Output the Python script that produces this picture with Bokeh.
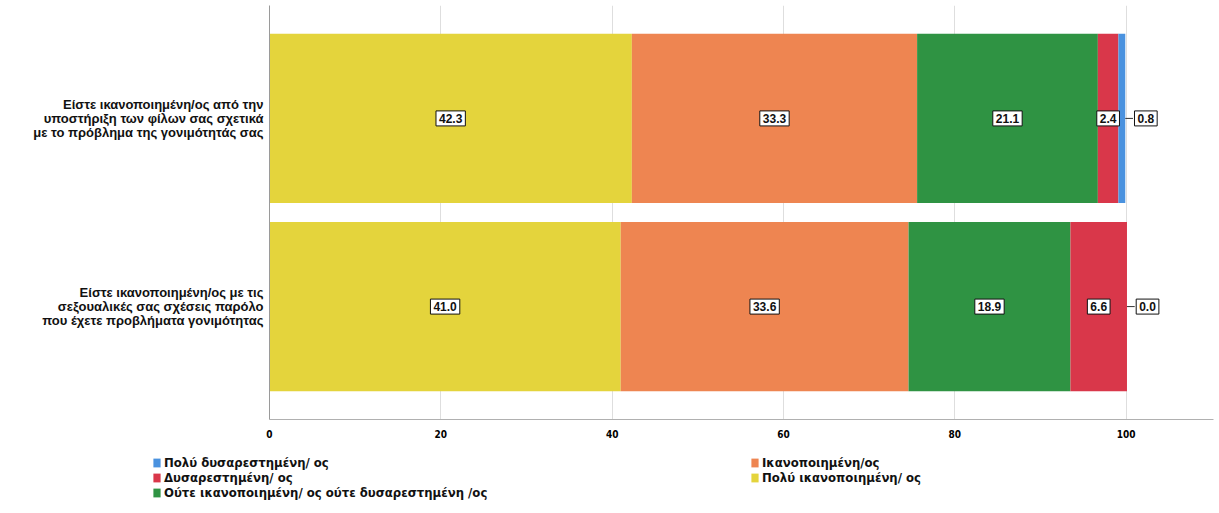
from bokeh.plotting import figure
from bokeh.layouts import column
from bokeh.models import (ColumnDataSource, FactorRange, Range1d, FixedTicker,
                          Legend, LegendItem)
from bokeh.core.properties import value
from bokeh.embed import file_html
from bokeh.resources import INLINE

# Survey questions (top to bottom)
questions = [
    "Είστε ικανοποιημένη/ος από την\nυποστήριξη των φίλων σας σχετικά\nμε το πρόβλημα της γονιμότητάς σας",
    "Είστε ικανοποιημένη/ος με τις\nσεξουαλικές σας σχέσεις παρόλο\nπου έχετε προβλήματα γονιμότητας",
]

# Answer categories, in stacking order (left to right)
answers = [
    "Πολύ ικανοποιημένη/ ος",
    "Ικανοποιημένη/ος",
    "Ούτε ικανοποιημένη/ ος ούτε δυσαρεστημένη /ος",
    "Δυσαρεστημένη/ ος",
    "Πολύ δυσαρεστημένη/ ος",
]
answer_keys = ["very_satisfied", "satisfied", "neutral", "dissatisfied", "very_dissatisfied"]
colors = ["#E4D43C", "#EE8551", "#2F9343", "#D9374A", "#4A92DF"]

# Percentages per question, one list per answer category
very_satisfied = [42.3, 41.0]
satisfied = [33.3, 33.6]
neutral = [21.1, 18.9]
dissatisfied = [2.4, 6.6]
very_dissatisfied = [0.8, 0.0]

x_ticks = [0, 20, 40, 60, 80, 100]

NARROW = "'Liberation Sans Narrow', 'DejaVu Sans Condensed', 'Arial Narrow', sans-serif"

series = [very_satisfied, satisfied, neutral, dissatisfied, very_dissatisfied]
data = {"q": questions}
for k, vals in zip(answer_keys, series):
    data[k] = vals
source = ColumnDataSource(data)

p = figure(
    width=1219, height=451,
    y_range=FactorRange(factors=list(reversed(questions)),
                        range_padding=0.1, range_padding_units="absolute"),
    x_range=Range1d(0, 110.2),
    output_backend="svg", toolbar_location=None,
    min_border_left=269, min_border_right=6, min_border_top=5, min_border_bottom=32,
)
p.frame_align = False
p.outline_line_color = None
p.background_fill_color = "white"

renderers = p.hbar_stack(answer_keys, y="q", height=0.9, color=colors,
                         line_color=None, source=source)

# Value boxes: centred inside a segment, or to the right of the bar if tiny
lab_x, lab_y, lab_t = [], [], []
lead_x0, lead_x1, lead_y = [], [], []
for i, q in enumerate(questions):
    left = 0.0
    for vals in series:
        v = vals[i]
        if v >= 2.0:
            lab_x.append(left + v / 2)
            lab_y.append(q)
            lab_t.append(f"{v:.1f}")
        else:
            end = left + v
            lab_x.append(end + 2.4)
            lab_y.append(q)
            lab_t.append(f"{v:.1f}")
            lead_x0.append(end)
            lead_x1.append(end + 0.9)
            lead_y.append(q)
        left += v

p.segment(x0=lead_x0, y0=lead_y, x1=lead_x1, y1=lead_y,
          line_color="#333333", line_width=1)
p.text(x=lab_x, y=lab_y, text=lab_t, text_align="center", text_baseline="middle",
       text_font=value("Liberation Sans"), text_font_style="bold",
       text_font_size="12px", text_color="#111111",
       background_fill_color="white", border_line_color="#111111",
       border_line_width=1, padding=3)

# Axes
p.xaxis.ticker = FixedTicker(ticks=x_ticks)
p.xaxis.axis_line_color = "#b0b0b0"
p.xaxis.major_tick_line_color = None
p.xaxis.minor_tick_line_color = None
p.xaxis.major_label_text_font = NARROW
p.xaxis.major_label_text_font_style = "bold"
p.xaxis.major_label_text_font_size = "10px"
p.xaxis.major_label_text_color = "black"
p.xaxis.major_label_standoff = 4

p.yaxis.axis_line_color = "#9a9a9a"
p.yaxis.major_tick_line_color = None
p.yaxis.major_label_text_font = "Liberation Sans"
p.yaxis.major_label_text_font_style = "bold"
p.yaxis.major_label_text_font_size = "13px"
p.yaxis.major_label_text_line_height = 0.95
p.yaxis.major_label_text_color = "#111111"
p.yaxis.major_label_standoff = 0

p.ygrid.grid_line_color = None
p.xgrid.grid_line_color = "#dedede"
p.xgrid.ticker = FixedTicker(ticks=x_ticks)

# Legend strip beneath the chart, two columns of colour swatches
lg = figure(width=1219, height=62, x_range=Range1d(0, 1), y_range=Range1d(0, 1),
            x_axis_type=None, y_axis_type=None,
            output_backend="svg", toolbar_location=None,
            min_border_left=0, min_border_right=0, min_border_top=0, min_border_bottom=0)
lg.frame_align = False
lg.outline_line_color = None
lg.xgrid.grid_line_color = None
lg.ygrid.grid_line_color = None
# one off-screen point each, so the legend has a glyph to sample
swatches = [lg.rect(x=[-5], y=[-5], width=1, height=1, fill_color=c, line_color=None)
            for c in colors]


def make_legend(idx, loc):
    return Legend(
        items=[LegendItem(label=answers[j], renderers=[swatches[j]]) for j in idx],
        location=loc, orientation="vertical",
        padding=0, margin=0, spacing=0,
        label_text_font=NARROW, label_text_font_style="bold",
        label_text_font_size="13px", label_text_color="#111111",
        label_height=14, label_standoff=3,
        glyph_width=9, glyph_height=11,
        border_line_color=None, background_fill_alpha=0,
    )


lg.add_layout(make_legend([4, 3, 2], (152, 13)), "center")
lg.add_layout(make_legend([1, 0], (750, 28)), "center")

layout = column(p, lg, spacing=0)

with open("out.html", "w") as f:
    f.write(file_html(layout, INLINE))
